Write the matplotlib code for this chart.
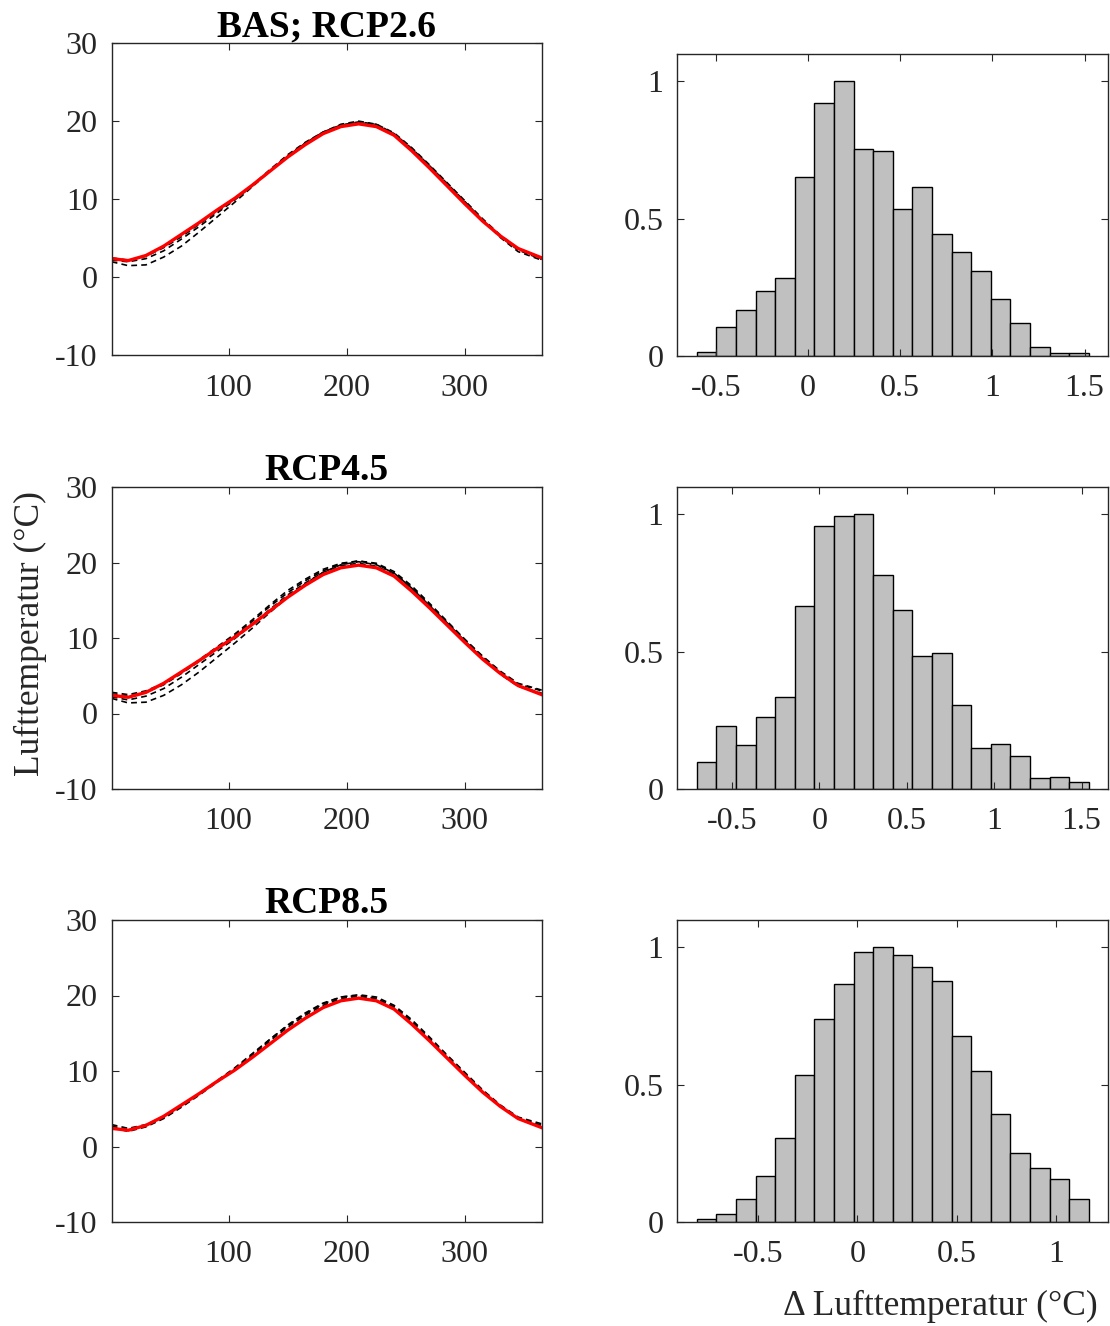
"""
Seasonal cycle of air temperature (observed vs. simulated runs) for three
scenarios, with histograms of the normalised temperature differences.
"""

import matplotlib.pyplot as plt
import numpy as np

# Figure settings
FIG_DPI = 100
TITLE_FONTSIZE = 27
TICK_FONTSIZE = 23
LABEL_FONTSIZE = 25.5
AX_COLOR = "#262626"
plt.rcParams["font.family"] = ["Liberation Serif", "DejaVu Serif"]

# Day of year
DAYS = [1, 15, 30, 45, 60, 75, 90, 105, 120, 135, 150, 165, 180,
        195, 210, 225, 240, 255, 270, 285, 300, 315, 330, 345, 365]

# Observed temperature (red)
OBS_TEMP = [2.4, 2.15, 2.8, 4.0, 5.5, 7.0, 8.6, 10.1, 11.8, 13.6, 15.4, 17.0, 18.4,
            19.3, 19.65, 19.3, 18.2, 16.2, 14.0, 11.7, 9.4, 7.2, 5.3, 3.7, 2.5]

# Simulated runs (black dashed)
RCP26_RUN1 = [2.0, 1.5, 1.6, 2.6, 4.0, 5.8, 7.7, 9.6, 11.6, 13.6, 15.5, 17.2, 18.6,
              19.5, 19.9, 19.6, 18.4, 16.5, 14.3, 12.0, 9.7, 7.3, 5.1, 3.3, 2.2]
RCP26_RUN2 = [2.2, 2.0, 2.4, 3.4, 4.9, 6.5, 8.2, 9.9, 11.7, 13.7, 15.6, 17.2, 18.6,
              19.6, 20.0, 19.6, 18.5, 16.6, 14.4, 12.1, 9.8, 7.5, 5.4, 3.7, 2.4]
RCP26_RUN3 = [2.5, 2.2, 2.7, 3.8, 5.2, 6.8, 8.4, 10.0, 11.8, 13.8, 15.7, 17.3, 18.6,
              19.4, 19.8, 19.4, 18.3, 16.4, 14.2, 11.9, 9.6, 7.3, 5.2, 3.5, 2.3]

RCP45_RUN1 = [2.0, 1.4, 1.5, 2.4, 3.8, 5.5, 7.4, 9.3, 11.3, 13.4, 15.4, 17.2, 18.7,
              19.7, 20.1, 19.7, 18.6, 16.6, 14.3, 12.0, 9.6, 7.3, 5.2, 3.6, 2.7]
RCP45_RUN2 = [2.6, 2.3, 2.8, 3.8, 5.3, 6.9, 8.6, 10.3, 12.2, 14.2, 16.0, 17.6, 18.9,
              19.8, 20.2, 19.9, 18.8, 16.9, 14.6, 12.2, 9.8, 7.5, 5.5, 3.9, 3.0]
RCP45_RUN3 = [2.2, 1.8, 2.3, 3.3, 4.8, 6.5, 8.2, 9.9, 11.8, 13.8, 15.7, 17.3, 18.7,
              19.6, 19.9, 19.5, 18.4, 16.5, 14.2, 11.9, 9.6, 7.3, 5.3, 3.7, 2.6]
RCP45_RUN4 = [2.8, 2.5, 3.0, 4.0, 5.4, 7.1, 8.8, 10.5, 12.4, 14.4, 16.3, 17.8, 19.1,
              19.9, 20.2, 19.8, 18.6, 16.7, 14.4, 12.1, 9.8, 7.6, 5.6, 4.0, 3.1]

RCP85_RUN1 = [2.9, 2.4, 2.9, 3.9, 5.4, 7.0, 8.7, 10.4, 12.3, 14.2, 16.0, 17.6, 18.9,
              19.8, 20.1, 19.8, 18.7, 16.8, 14.5, 12.1, 9.8, 7.5, 5.5, 3.9, 3.0]
RCP85_RUN2 = [2.5, 2.0, 2.6, 3.7, 5.2, 6.8, 8.5, 10.2, 12.0, 14.0, 15.8, 17.4, 18.7,
              19.6, 19.9, 19.6, 18.5, 16.6, 14.3, 12.0, 9.7, 7.4, 5.4, 3.8, 2.8]
RCP85_RUN3 = [2.7, 2.2, 2.7, 3.8, 5.3, 6.9, 8.6, 10.3, 12.2, 14.2, 16.1, 17.7, 19.0,
              19.8, 20.0, 19.6, 18.4, 16.4, 14.1, 11.8, 9.5, 7.3, 5.3, 3.7, 2.7]

# Histograms of temperature difference (normalised to max), 20 bins each
HIST_RCP26 = [0.013, 0.107, 0.168, 0.235, 0.284, 0.651, 0.920, 1.0, 0.753, 0.748,
              0.537, 0.615, 0.443, 0.380, 0.309, 0.209, 0.122, 0.034, 0.012, 0.012]
HIST_RCP45 = [0.099, 0.229, 0.162, 0.263, 0.336, 0.668, 0.959, 0.993, 1.0, 0.779,
              0.651, 0.484, 0.497, 0.305, 0.150, 0.164, 0.121, 0.039, 0.044, 0.027]
HIST_RCP85 = [0.010, 0.029, 0.084, 0.168, 0.307, 0.536, 0.741, 0.868, 0.984, 1.0,
              0.971, 0.930, 0.876, 0.677, 0.550, 0.395, 0.250, 0.197, 0.157, 0.084]
HIST_RCP26_RANGE = (-0.602, 1.522)
HIST_RCP45_RANGE = (-0.700, 1.541)
HIST_RCP85_RANGE = (-0.806, 1.163)

TITLES = ["BAS; RCP2.6", "RCP4.5", "RCP8.5"]

OUTPUT_FILEPATH = "out.png"


def style_axes(ax, ypad=10):
    for spine in ax.spines.values():
        spine.set_color(AX_COLOR)
        spine.set_linewidth(1.0)
    ax.tick_params(direction="in", length=5, width=0.8, color=AX_COLOR,
                   top=True, right=True, labelsize=TICK_FONTSIZE,
                   labelcolor=AX_COLOR)
    ax.tick_params(axis="x", pad=13)
    ax.tick_params(axis="y", pad=ypad)


def main():
    runs = [
        [RCP26_RUN1, RCP26_RUN2, RCP26_RUN3],
        [RCP45_RUN1, RCP45_RUN2, RCP45_RUN3, RCP45_RUN4],
        [RCP85_RUN1, RCP85_RUN2, RCP85_RUN3],
    ]
    hists = [HIST_RCP26, HIST_RCP45, HIST_RCP85]
    ranges = [HIST_RCP26_RANGE, HIST_RCP45_RANGE, HIST_RCP85_RANGE]
    hist_ticks = [[-0.5, 0, 0.5, 1, 1.5], [-0.5, 0, 0.5, 1, 1.5], [-0.5, 0, 0.5, 1]]

    W, H = 1110, 1326
    fig = plt.figure(figsize=(W / FIG_DPI, H / FIG_DPI), dpi=FIG_DPI)

    # axes boxes in pixels: (top, bottom)
    left_rows = [(43, 355.5), (487, 789), (920, 1222)]
    right_rows = [(54, 356), (487, 789), (920, 1222)]
    lx0, lx1 = 111.7, 541.7
    rx0, rx1 = 677.3, 1108.3

    for i in range(3):
        top, bot = left_rows[i]
        ax = fig.add_axes([lx0 / W, 1 - bot / H, (lx1 - lx0) / W, (bot - top) / H])
        for run in runs[i]:
            ax.plot(DAYS, run, color="black", linestyle=(0, (3.5, 2.5)), linewidth=1.2)
        ax.plot(DAYS, OBS_TEMP, color="#ff0000", linewidth=2.4)
        ax.set_xlim(1, 365)
        ax.set_ylim(-10, 30)
        ax.set_xticks([100, 200, 300])
        ax.set_yticks([-10, 0, 10, 20, 30])
        ax.set_yticklabels(["-10", "0", "10", "20", "30"])
        style_axes(ax)
        ax.set_title(TITLES[i], fontsize=TITLE_FONTSIZE, fontweight="bold", pad=5)

        top, bot = right_rows[i]
        ax = fig.add_axes([rx0 / W, 1 - bot / H, (rx1 - rx0) / W, (bot - top) / H])
        lo, hi = ranges[i]
        edges = np.linspace(lo, hi, len(hists[i]) + 1)
        width = edges[1] - edges[0]
        ax.bar(edges[:-1], hists[i], width=width, align="edge",
               color="#c0c0c0", edgecolor="black", linewidth=1.0)
        ax.set_xlim(lo - width, hi + width)
        ax.set_ylim(0, 1.1)
        ax.set_xticks(hist_ticks[i])
        ax.set_xticklabels([f"{t:g}" for t in hist_ticks[i]])
        ax.set_yticks([0, 0.5, 1])
        ax.set_yticklabels(["0", "0.5", "1"])
        style_axes(ax)

    fig.text(30 / W, 1 - 634 / H, "Lufttemperatur (°C)", rotation=90,
             ha="center", va="center", fontsize=LABEL_FONTSIZE, color=AX_COLOR)
    fig.text(940 / W, 1 - 1306 / H, "\u0394 Lufttemperatur (°C)",
             ha="center", va="center", fontsize=LABEL_FONTSIZE, color=AX_COLOR)

    fig.savefig(OUTPUT_FILEPATH, dpi=FIG_DPI)
    print(f"Saved figure to {OUTPUT_FILEPATH}")


if __name__ == "__main__":
    main()
